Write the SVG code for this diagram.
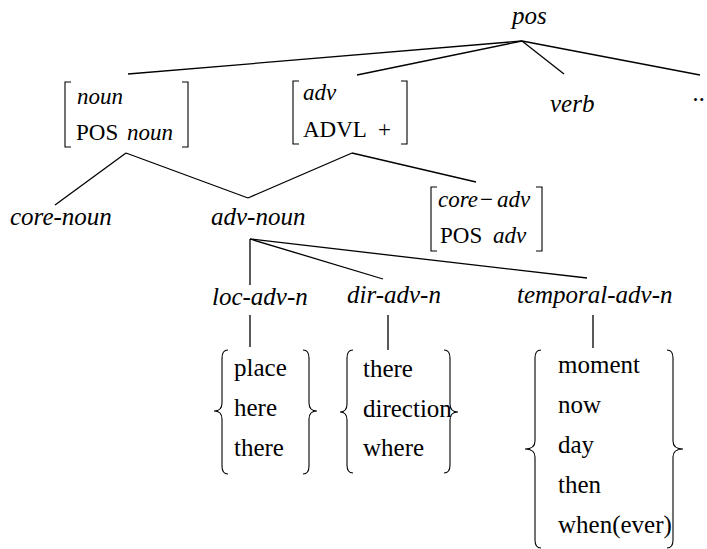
<svg xmlns="http://www.w3.org/2000/svg" width="707" height="549" viewBox="0 0 707 549">
  <style>
    text { font-family: "Liberation Serif", "Times New Roman", serif; fill: #000; }
    .lbl { font-size: 25px; font-style: italic; }
    .fs { font-size: 23px; }
    .it { font-style: italic; }
    .lst { font-size: 25px; }
    .edge { stroke: #000; stroke-width: 1.3; fill: none; }
    .brk { stroke: #000; stroke-width: 1.1; fill: none; }
  </style>
  <rect width="707" height="549" fill="#fff"/>

  <!-- tree edges -->
  <g id="connectors">
    <line class="edge" x1="522" y1="41" x2="128" y2="74"/>
    <line class="edge" x1="522" y1="41" x2="357" y2="75"/>
    <line class="edge" x1="522" y1="41" x2="564" y2="74"/>
    <line class="edge" x1="522" y1="41" x2="700" y2="75"/>
    <line class="edge" x1="126" y1="153" x2="55" y2="205"/>
    <line class="edge" x1="126" y1="153" x2="248" y2="198"/>
    <line class="edge" x1="352" y1="153" x2="248" y2="198"/>
    <line class="edge" x1="352" y1="153" x2="476" y2="182"/>
    <line class="edge" x1="250" y1="239" x2="250" y2="285"/>
    <line class="edge" x1="250" y1="239" x2="383" y2="279"/>
    <line class="edge" x1="250" y1="239" x2="587" y2="278"/>
    <line class="edge" x1="250" y1="315" x2="250" y2="347"/>
    <line class="edge" x1="388" y1="315" x2="388" y2="350"/>
    <line class="edge" x1="593" y1="315" x2="593" y2="348"/>
  </g>

  <g id="pos">
    <text class="lbl" x="512" y="24">pos</text>
  </g>

  <!-- feature structure [noun, POS noun] -->
  <g id="noun">
    <path class="brk" d="M71,82 H65 V147 H71"/>
    <path class="brk" d="M182,82 H188 V147 H182"/>
    <text class="fs it" x="77" y="104">noun</text>
    <text class="fs" x="76" y="140">POS</text>
    <text class="fs it" x="127" y="140">noun</text>
  </g>

  <!-- feature structure [adv, ADVL +] -->
  <g id="adv">
    <path class="brk" d="M299,81 H293 V144 H299"/>
    <path class="brk" d="M401,81 H407 V144 H401"/>
    <text class="fs it" x="303" y="100">adv</text>
    <text class="fs" x="303" y="137">ADVL</text>
    <text class="fs" x="378" y="137">+</text>
  </g>

  <g id="verb">
    <text class="lbl" x="550" y="112">verb</text>
  </g>

  <g id="more">
    <text class="lbl" x="693" y="101">..</text>
  </g>

  <g id="core-noun">
    <text class="lbl" x="10" y="225">core-noun</text>
  </g>

  <g id="adv-noun">
    <text class="lbl" x="211" y="225">adv-noun</text>
  </g>

  <!-- feature structure [core-adv, POS adv] -->
  <g id="core-adv">
    <path class="brk" d="M437,187 H431 V251 H437"/>
    <path class="brk" d="M536,187 H542 V251 H536"/>
    <text class="fs it" x="438" y="207">core</text>
    <text class="fs" x="480" y="207">−</text>
    <text class="fs it" x="497" y="207">adv</text>
    <text class="fs" x="440" y="243">POS</text>
    <text class="fs it" x="493" y="243">adv</text>
  </g>

  <g id="loc-adv-n">
    <text class="lbl" x="212" y="305">loc-adv-n</text>
  </g>

  <g id="dir-adv-n">
    <text class="lbl" x="347" y="303">dir-adv-n</text>
  </g>

  <g id="temporal-adv-n">
    <text class="lbl" x="517" y="303">temporal-adv-n</text>
  </g>

  <!-- word sets -->
  <g id="loc-words">
    <path class="brk" d="M228,350 Q222,350 222,358 L222,403 Q222,411 214,411 Q222,411 222,419 L222,466 Q222,474 228,474"/>
    <path class="brk" d="M303,350 Q309,350 309,358 L309,403 Q309,411 317,411 Q309,411 309,419 L309,466 Q309,474 303,474"/>
    <text class="lst" x="234" y="376">place</text>
    <text class="lst" x="234" y="416">here</text>
    <text class="lst" x="234" y="456">there</text>
  </g>

  <g id="dir-words">
    <path class="brk" d="M353,350 Q347,350 347,358 L347,404 Q347,412 340,412 Q347,412 347,420 L347,465 Q347,473 353,473"/>
    <path class="brk" d="M444,350 Q450,350 450,358 L450,404 Q450,412 458,412 Q450,412 450,420 L450,465 Q450,473 444,473"/>
    <text class="lst" x="363" y="377">there</text>
    <text class="lst" x="363" y="417">direction</text>
    <text class="lst" x="363" y="456">where</text>
  </g>

  <g id="temporal-words">
    <path class="brk" d="M541,350 Q535,350 535,358 L535,441 Q535,449 525,449 Q535,449 535,457 L535,540 Q535,548 541,548"/>
    <path class="brk" d="M667,350 Q673,350 673,358 L673,441 Q673,449 683,449 Q673,449 673,457 L673,540 Q673,548 667,548"/>
    <text class="lst" x="558" y="373">moment</text>
    <text class="lst" x="558" y="413">now</text>
    <text class="lst" x="558" y="453">day</text>
    <text class="lst" x="558" y="493">then</text>
    <text class="lst" x="558" y="533">when(ever)</text>
  </g>
</svg>
